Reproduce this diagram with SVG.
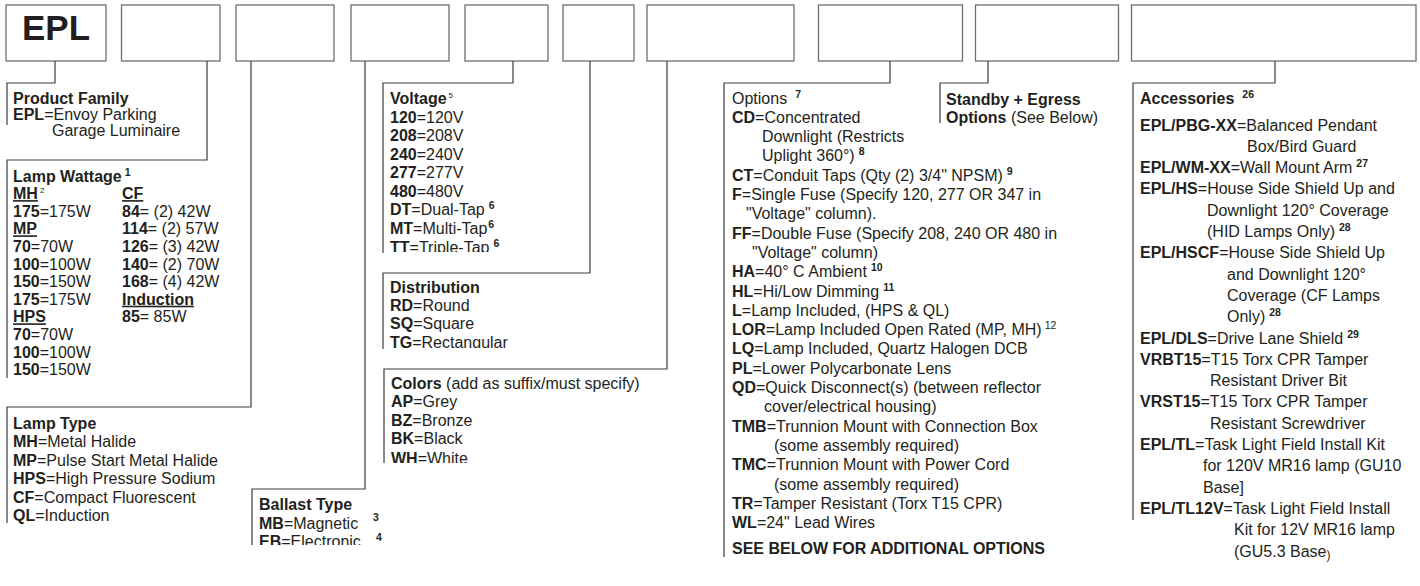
<svg xmlns="http://www.w3.org/2000/svg" width="1420" height="586" viewBox="0 0 1420 586">
<style>
text{font-family:"Liberation Sans",Arial,Helvetica,sans-serif;font-size:16px;fill:#231f20}
.b{font-weight:bold}
.u{font-weight:bold;text-decoration:underline}
.sup{font-weight:bold;font-size:10.5px}
.supr{font-size:8px}
.box{fill:#fff;stroke:#6e6e6e;stroke-width:1.3}
.conn{fill:none;stroke:#3c3c3c;stroke-width:1.2}
.big{font-weight:bold;font-size:35px}
</style>
<defs>
<clipPath id="clipVolt"><rect x="380" y="84" width="180" height="168"/></clipPath>
<clipPath id="clipDist"><rect x="380" y="274" width="200" height="74"/></clipPath>
<clipPath id="clipCol"><rect x="380" y="370" width="300" height="93"/></clipPath>
<clipPath id="clipBal"><rect x="250" y="490" width="150" height="55"/></clipPath>
</defs>
<rect width="1420" height="586" fill="#fff"/>

<g id="code-boxes">
<g id="box-epl"><rect class="box" x="6" y="5" width="100" height="56"/><text class="big" x="56" y="40" text-anchor="middle">EPL</text></g>
<g id="box-wattage"><rect class="box" x="121.5" y="5" width="98.5" height="56"/></g>
<g id="box-lamptype"><rect class="box" x="236" y="5" width="98" height="56"/></g>
<g id="box-ballast"><rect class="box" x="351" y="5" width="98" height="56"/></g>
<g id="box-voltage"><rect class="box" x="465" y="5" width="83" height="56"/></g>
<g id="box-distribution"><rect class="box" x="563" y="5" width="71" height="56"/></g>
<g id="box-colors"><rect class="box" x="647" y="5" width="147" height="56"/></g>
<g id="box-options"><rect class="box" x="818.5" y="5" width="144" height="56"/></g>
<g id="box-standby"><rect class="box" x="975.5" y="5" width="143" height="56"/></g>
<g id="box-accessories"><rect class="box" x="1131.5" y="5" width="284.5" height="56"/></g>
</g>

<g id="connectors">
<path class="conn" d="M55 61V83H7V125"/>
<path class="conn" d="M207 61V160H7V378"/>
<path class="conn" d="M251 61V407H7V523"/>
<path class="conn" d="M365 61V489H252V545"/>
<path class="conn" d="M513 61V83H383V253"/>
<path class="conn" d="M590 61V273H383V349"/>
<path class="conn" d="M667 61V369H384V463"/>
<path class="conn" d="M890 61V83H724V557"/>
<path class="conn" d="M988 61V83H940V123"/>
<path class="conn" d="M1275 61V83H1133V520"/>
</g>

<g id="product-family">
<text class="b" x="13" y="104">Product Family</text>
<text x="13" y="119.5"><tspan class="b">EPL</tspan>=Envoy Parking</text>
<text x="52" y="136">Garage Luminaire</text>
</g>

<g id="lamp-wattage">
<text x="13" y="181.5"><tspan class="b">Lamp Wattage</tspan><tspan class="sup" dx="3" dy="-6">1</tspan></text>
<text x="13" y="199.1"><tspan class="u">MH</tspan><tspan class="supr" dx="2" dy="-6">2</tspan></text>
<text x="13" y="216.7"><tspan class="b">175</tspan>=175W</text>
<text class="u" x="13" y="234.3">MP</text>
<text x="13" y="251.9"><tspan class="b">70</tspan>=70W</text>
<text x="13" y="269.5"><tspan class="b">100</tspan>=100W</text>
<text x="13" y="287.1"><tspan class="b">150</tspan>=150W</text>
<text x="13" y="304.7"><tspan class="b">175</tspan>=175W</text>
<text class="u" x="13" y="322.3">HPS</text>
<text x="13" y="339.9"><tspan class="b">70</tspan>=70W</text>
<text x="13" y="357.5"><tspan class="b">100</tspan>=100W</text>
<text x="13" y="375.1"><tspan class="b">150</tspan>=150W</text>
<text class="u" x="122" y="199.1">CF</text>
<text x="122" y="216.7"><tspan class="b">84</tspan>= (2) 42W</text>
<text x="122" y="234.3"><tspan class="b">114</tspan>= (2) 57W</text>
<text x="122" y="251.9"><tspan class="b">126</tspan>= (3) 42W</text>
<text x="122" y="269.5"><tspan class="b">140</tspan>= (2) 70W</text>
<text x="122" y="287.1"><tspan class="b">168</tspan>= (4) 42W</text>
<text class="u" x="122" y="304.7">Induction</text>
<text x="122" y="322.3"><tspan class="b">85</tspan>= 85W</text>
</g>

<g id="lamp-type">
<text class="b" x="13" y="428.5">Lamp Type</text>
<text x="13" y="447"><tspan class="b">MH</tspan>=Metal Halide</text>
<text x="13" y="465.5"><tspan class="b">MP</tspan>=Pulse Start Metal Halide</text>
<text x="13" y="484"><tspan class="b">HPS</tspan>=High Pressure Sodium</text>
<text x="13" y="502.5"><tspan class="b">CF</tspan>=Compact Fluorescent</text>
<text x="13" y="521"><tspan class="b">QL</tspan>=Induction</text>
</g>

<g id="ballast-type" clip-path="url(#clipBal)">
<text class="b" x="259" y="509.5">Ballast Type</text>
<text x="259" y="528.5"><tspan class="b">MB</tspan>=Magnetic</text>
<text class="sup" x="373" y="521">3</text>
<text x="259" y="546.5"><tspan class="b">EB</tspan>=Electronic</text>
<text class="sup" x="376" y="541">4</text>
</g>

<g id="voltage" clip-path="url(#clipVolt)">
<text x="390" y="103.5"><tspan class="b">Voltage</tspan><tspan class="supr" dx="2" dy="-6">5</tspan></text>
<text x="390" y="122.5"><tspan class="b">120</tspan>=120V</text>
<text x="390" y="141"><tspan class="b">208</tspan>=208V</text>
<text x="390" y="159.5"><tspan class="b">240</tspan>=240V</text>
<text x="390" y="178"><tspan class="b">277</tspan>=277V</text>
<text x="390" y="196.5"><tspan class="b">480</tspan>=480V</text>
<text x="390" y="215"><tspan class="b">DT</tspan>=Dual-Tap<tspan class="sup" dx="4" dy="-6">6</tspan></text>
<text x="390" y="233.5"><tspan class="b">MT</tspan>=Multi-Tap<tspan class="sup" dx="1" dy="-6">6</tspan></text>
<text x="390" y="252.5"><tspan class="b">TT</tspan>=Triple-Tap<tspan class="sup" dx="4" dy="-6">6</tspan></text>
</g>

<g id="distribution" clip-path="url(#clipDist)">
<text class="b" x="390" y="292.5">Distribution</text>
<text x="390" y="310.5"><tspan class="b">RD</tspan>=Round</text>
<text x="390" y="328.5"><tspan class="b">SQ</tspan>=Square</text>
<text x="390" y="347.5"><tspan class="b">TG</tspan>=Rectangular</text>
</g>

<g id="colors" clip-path="url(#clipCol)">
<text x="391" y="388.5"><tspan class="b">Colors</tspan> (add as suffix/must specify)</text>
<text x="391" y="407"><tspan class="b">AP</tspan>=Grey</text>
<text x="391" y="425.5"><tspan class="b">BZ</tspan>=Bronze</text>
<text x="391" y="444"><tspan class="b">BK</tspan>=Black</text>
<text x="391" y="463.5"><tspan class="b">WH</tspan>=White</text>
</g>

<g id="options">
<text x="732" y="103.5">Options<tspan class="sup" dx="8" dy="-6">7</tspan></text>
<text x="732" y="122.8"><tspan class="b">CD</tspan>=Concentrated</text>
<text x="762" y="142.1">Downlight (Restricts</text>
<text x="762" y="161.4">Uplight 360°)<tspan class="sup" dx="4" dy="-6">8</tspan></text>
<text x="732" y="180.7"><tspan class="b">CT</tspan>=Conduit Taps (Qty (2) 3/4" NPSM)<tspan class="sup" dx="4" dy="-6">9</tspan></text>
<text x="732" y="200"><tspan class="b">F</tspan>=Single Fuse (Specify 120, 277 OR 347 in</text>
<text x="746" y="219.3">"Voltage" column).</text>
<text x="732" y="238.6"><tspan class="b">FF</tspan>=Double Fuse (Specify 208, 240 OR 480 in</text>
<text x="752" y="257.9">"Voltage" column)</text>
<text x="732" y="277.2"><tspan class="b">HA</tspan>=40° C Ambient<tspan class="sup" dx="4" dy="-6">10</tspan></text>
<text x="732" y="296.5"><tspan class="b">HL</tspan>=Hi/Low Dimming<tspan class="sup" dx="4" dy="-6">11</tspan></text>
<text x="732" y="315.8"><tspan class="b">L</tspan>=Lamp Included, (HPS &amp; QL)</text>
<text x="732" y="335.1"><tspan class="b">LOR</tspan>=Lamp Included Open Rated (MP, MH)<tspan font-size="10.5" dx="3" dy="-6">12</tspan></text>
<text x="732" y="354.4"><tspan class="b">LQ</tspan>=Lamp Included, Quartz Halogen DCB</text>
<text x="732" y="373.7"><tspan class="b">PL</tspan>=Lower Polycarbonate Lens</text>
<text x="732" y="393"><tspan class="b">QD</tspan>=Quick Disconnect(s) (between reflector</text>
<text x="764" y="412.3">cover/electrical housing)</text>
<text x="732" y="431.6"><tspan class="b">TMB</tspan>=Trunnion Mount with Connection Box</text>
<text x="774" y="450.9">(some assembly required)</text>
<text x="732" y="470.2"><tspan class="b">TMC</tspan>=Trunnion Mount with Power Cord</text>
<text x="774" y="489.5">(some assembly required)</text>
<text x="732" y="508.8"><tspan class="b">TR</tspan>=Tamper Resistant (Torx T15 CPR)</text>
<text x="732" y="528.1"><tspan class="b">WL</tspan>=24" Lead Wires</text>
<text class="b" x="732" y="553.5">SEE BELOW FOR ADDITIONAL OPTIONS</text>
</g>

<g id="standby-egress">
<text class="b" x="946" y="104.5">Standby + Egress</text>
<text x="946" y="122.5"><tspan class="b">Options</tspan> (See Below)</text>
</g>

<g id="accessories">
<text x="1140" y="103.5"><tspan class="b">Accessories</tspan><tspan class="sup" dx="8" dy="-6">26</tspan></text>
<text x="1140" y="130.5"><tspan class="b">EPL/PBG-XX</tspan>=Balanced Pendant</text>
<text x="1247" y="151.8">Box/Bird Guard</text>
<text x="1140" y="173.1"><tspan class="b">EPL/WM-XX</tspan>=Wall Mount Arm<tspan class="sup" dx="4" dy="-6">27</tspan></text>
<text x="1140" y="194.4"><tspan class="b">EPL/HS</tspan>=House Side Shield Up and</text>
<text x="1207" y="215.7">Downlight 120° Coverage</text>
<text x="1207" y="237">(HID Lamps Only)<tspan class="sup" dx="4" dy="-6">28</tspan></text>
<text x="1140" y="258.3"><tspan class="b">EPL/HSCF</tspan>=House Side Shield Up</text>
<text x="1227" y="279.6">and Downlight 120°</text>
<text x="1227" y="300.9">Coverage (CF Lamps</text>
<text x="1227" y="322.2">Only)<tspan class="sup" dx="4" dy="-6">28</tspan></text>
<text x="1140" y="343.5"><tspan class="b">EPL/DLS</tspan>=Drive Lane Shield<tspan class="sup" dx="4" dy="-6">29</tspan></text>
<text x="1140" y="364.8"><tspan class="b">VRBT15</tspan>=T15 Torx CPR Tamper</text>
<text x="1210" y="386.1">Resistant Driver Bit</text>
<text x="1140" y="407.4"><tspan class="b">VRST15</tspan>=T15 Torx CPR Tamper</text>
<text x="1210" y="428.7">Resistant Screwdriver</text>
<text x="1140" y="450"><tspan class="b">EPL/TL</tspan>=Task Light Field Install Kit</text>
<text x="1203" y="471.3">for 120V MR16 lamp (GU10</text>
<text x="1203" y="492.6">Base]</text>
<text x="1140" y="513.9"><tspan class="b">EPL/TL12V</tspan>=Task Light Field Install</text>
<text x="1234" y="535.2">Kit for 12V MR16 lamp</text>
<text x="1234" y="556.5">(GU5.3 Base<tspan font-size="12" dy="2">)</tspan></text>
</g>
</svg>
